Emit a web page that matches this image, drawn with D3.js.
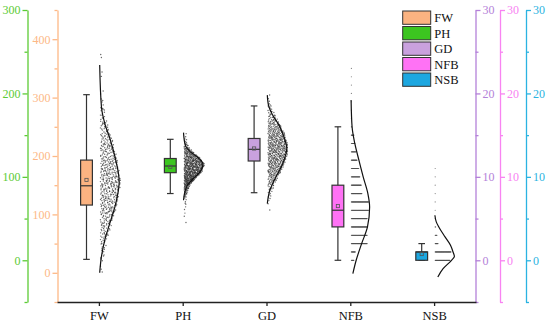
<!DOCTYPE html>
<html><head><meta charset="utf-8">
<script src="https://cdn.jsdelivr.net/npm/d3@7"></script>
<style>body{margin:0;background:#fff}svg{display:block}text{font-family:"Liberation Serif","Times New Roman",serif}</style>
</head><body><svg id="c" width="550" height="326"></svg>
<script>
// ---------- data ----------
const categories = ["FW","PH","GD","NFB","NSB"];
const whiskerLow  = [23, 80, 8.1, 0, 0];
const q1          = [116, 105, 11.9, 4, 0];
const medians     = [149, 113, 13.3, 6, 1];
const q3          = [193, 122, 14.6, 9, 1];
const whiskerHigh = [305, 145, 18.5, 16, 2];
const means       = [159, 112, 13.4, 6.5, 0.75];

// distribution curves: [value, relative density]
const curveFW  = [[0,0],[28,0.09],[56,0.26],[85,0.52],[113,0.78],[156,1],[199,0.78],[227,0.55],[256,0.26],[284,0.09],[356,0]];
const curvePH  = [[72,0],[80,0.05],[90,0.2],[98,0.5],[106,0.85],[115,1],[124,0.7],[130,0.35],[138,0.09],[153,0]];
const curveGD  = [[6.8,0],[8.3,0.12],[9.8,0.4],[11.2,0.72],[12.3,0.9],[13.4,1],[14.8,0.85],[16.2,0.6],[17.5,0.25],[18.5,0.07],[19.8,0]];
const curveNFB = [[-1.6,0.09],[0,0.26],[2,0.54],[4,0.84],[6.4,0.95],[8,0.86],[10,0.62],[12,0.4],[14,0.19],[16,0.05],[19.2,0]];
const curveNSB = [[-2,0.15],[-1,0.42],[0,0.85],[0.45,1],[1,0.93],[1.8,0.8],[2.8,0.52],[4,0.2],[4.6,0.07],[5.4,0]];

// dot clouds: [bin centre, count]
const binWidthFW = 20, binWidthPH = 5, binWidthGD = 0.5;
const dotsFW = [[10,3],[30,8],[50,15],[70,25],[90,38],[110,52],[130,62],[150,68],[170,66],[190,58],[210,45],[230,33],[250,22],[270,12],[290,6],[310,2],[330,1],[350,1],[370,2]];
const dotsPH = [[47.5,1],[52.5,1],[57.5,1],[62.5,2],[67.5,2],[72.5,3],[77.5,6],[82.5,12],[87.5,22],[92.5,38],[97.5,58],[102.5,72],[107.5,80],[112.5,82],[117.5,76],[122.5,60],[127.5,40],[132.5,22],[137.5,10],[142.5,4],[147.5,2],[152.5,1]];
const dotsGD = [[6.25,1],[6.75,1],[7.25,2],[7.75,3],[8.25,5],[8.75,8],[9.25,12],[9.75,17],[10.25,23],[10.75,29],[11.25,35],[11.75,40],[12.25,44],[12.75,47],[13.25,48],[13.75,47],[14.25,44],[14.75,40],[15.25,34],[15.75,28],[16.25,22],[16.75,16],[17.25,11],[17.75,7],[18.25,4],[18.75,3],[19.25,2],[19.75,1]];
// discrete counts: [value, count]
const dotsNFB = [[0,8],[1,12],[2,46],[3,46],[4,46],[5,46],[6,50],[7,50],[8,31],[9,29],[10,25],[11,22],[12,17],[13,14],[14,11],[15,8],[16,2],[17,1],[18,1],[19,1],[20,1],[21,1],[22,1],[23,1]];
const dotsNSB = [[0,43],[1,46],[2,9],[3,6],[4,2],[5,1],[6,1],[7,1],[8,1],[9,1],[10,1],[11,1]];

// axis ticks
const ticksOrange = [0,100,200,300,400], minorOrange = [-50,50,150,250,350,450];
const ticksGreen  = [0,100,200,300],     minorGreen  = [-50,50,150,250];
const ticksRight  = [0,10,20,30],        minorRight  = [-5,5,15,25];

// ---------- styles ----------
const fills  = ["#FBB381","#3CC520","#C9A1DE","#FF72F5","#1DA7E0"];
const axCols = ["#FDB886","#5CCB35","#B481D9","#F883F2","#2BB3E1"];

const svg = d3.select("#c");
const plotTop = 10, plotBottom = 302;
const x = d3.scalePoint().domain(categories).range([57, 476]).padding(0.5);
const yOrange = d3.scaleLinear().domain([-50,450]).range([plotBottom, plotTop]);
const yGreen  = d3.scaleLinear().domain([-50,300]).range([plotBottom, plotTop]);
const yPurple = d3.scaleLinear().domain([-5,30]).range([plotBottom, plotTop]);
const yPink   = d3.scaleLinear().domain([-5,30]).range([plotBottom, plotTop]);
const yCyan   = d3.scaleLinear().domain([-5,30]).range([plotBottom, plotTop]);
const yScales = [yOrange, yGreen, yPurple, yPink, yCyan];
const wScale = d3.scaleLinear().domain([0,1]).range([0,19.5]);

// ---------- axes ----------
function drawAxis(scale, xpos, side, major, minor, col) {
  const mk = side === "left" ? d3.axisLeft : d3.axisRight;
  const g = svg.append("g").attr("transform", `translate(${xpos},0)`);
  g.call(mk(scale).tickValues(major).tickSize(5).tickSizeOuter(0).tickPadding(2).tickFormat(d3.format("d")));
  const gm = svg.append("g").attr("transform", `translate(${xpos},0)`);
  gm.call(mk(scale).tickValues(minor).tickSize(3).tickSizeOuter(0).tickFormat(""));
  gm.select(".domain").remove();
  [g, gm].forEach(s => {
    s.selectAll("path,line").attr("stroke", col).attr("stroke-width", 1.3);
    s.selectAll("text").attr("fill", col).attr("font-size", 12).attr("font-family", "Liberation Serif");
  });
}
drawAxis(yGreen, 27.5, "left", ticksGreen, minorGreen, axCols[1]);
drawAxis(yOrange, 57.5, "left", ticksOrange, minorOrange, axCols[0]);
drawAxis(yPurple, 475.5, "right", ticksRight, minorRight, axCols[2]);
drawAxis(yPink, 500, "right", ticksRight, minorRight, axCols[3]);
drawAxis(yCyan, 526, "right", ticksRight, minorRight, axCols[4]);

const gx = svg.append("g").attr("transform", `translate(0,${plotBottom})`);
gx.call(d3.axisBottom(x).tickSize(4).tickSizeOuter(0).tickPadding(5));
gx.selectAll("path,line").attr("stroke", "#222").attr("stroke-width", 1.3);
gx.selectAll("text").attr("fill", "#111").attr("font-size", 12.5).attr("font-family", "Liberation Serif");

// ---------- helpers ----------
function halton(i, b) { let f = 1, r = 0; while (i > 0) { f /= b; r += f * (i % b); i = Math.floor(i / b); } return r; }
function relAt(curve, v) {
  if (v <= curve[0][0]) return curve[0][1];
  const last = curve[curve.length - 1];
  if (v >= last[0]) return last[1];
  for (let i = 1; i < curve.length; i++) {
    if (v <= curve[i][0]) {
      const [a, ra] = curve[i-1], [b, rb] = curve[i];
      return ra + (rb - ra) * (v - a) / (b - a);
    }
  }
  return 0;
}
const plot = svg.append("g");

function drawCloud(i, bins, binW, curve) {
  const yS = yScales[i];
  const base = x(categories[i]) + 0.8;
  const pts = [];
  let idx = 0;
  bins.forEach(([c, n]) => {
    for (let k = 0; k < n; k++) {
      idx++;
      const t = halton(idx + 7, 2);
      const u = halton(idx + 7, 3);
      const v = c - binW / 2 + t * binW;
      const w = wScale(relAt(curve, v)) * 0.95 + 2;
      pts.push([base + 0.7 + u * w, yS(v)]);
    }
  });
  plot.append("g").selectAll("circle").data(pts).join("circle")
    .attr("cx", d => d[0]).attr("cy", d => d[1]).attr("r", 0.7)
    .attr("fill", "#2a2a2a").attr("fill-opacity", 0.7);
}
function drawDiscrete(i, counts) {
  const yS = yScales[i];
  const base = x(categories[i]) + 0.8;
  const pts = [];
  counts.forEach(([v, n]) => {
    for (let k = 0; k < n; k++) pts.push([base + 0.3 + k * 0.35, yS(v)]);
  });
  plot.append("g").selectAll("circle").data(pts).join("circle")
    .attr("cx", d => d[0]).attr("cy", d => d[1]).attr("r", 0.6)
    .attr("fill", "#333").attr("fill-opacity", 0.6);
}
function drawCurve(i, curve) {
  const yS = yScales[i];
  const base = x(categories[i]) + 0.8;
  plot.append("path").datum(curve)
    .attr("d", d3.line().x(d => base + wScale(d[1])).y(d => yS(d[0])).curve(d3.curveMonotoneY))
    .attr("fill", "none").attr("stroke", "#111").attr("stroke-width", 1.2);
}
function drawBox(i) {
  const yS = yScales[i];
  const cx = x(categories[i]) - 12.4;
  const hw = 5.9, cap = 3.3;
  const g = plot.append("g").attr("stroke", "#333").attr("stroke-width", 1.2);
  g.append("line").attr("x1", cx).attr("x2", cx).attr("y1", yS(whiskerLow[i])).attr("y2", yS(whiskerHigh[i]));
  g.append("line").attr("x1", cx - cap).attr("x2", cx + cap).attr("y1", yS(whiskerHigh[i])).attr("y2", yS(whiskerHigh[i]));
  g.append("line").attr("x1", cx - cap).attr("x2", cx + cap).attr("y1", yS(whiskerLow[i])).attr("y2", yS(whiskerLow[i]));
  g.append("rect").attr("x", cx - hw).attr("width", hw * 2)
    .attr("y", yS(q3[i])).attr("height", Math.max(0, yS(q1[i]) - yS(q3[i])))
    .attr("fill", fills[i]);
  g.append("line").attr("x1", cx - hw).attr("x2", cx + hw).attr("y1", yS(medians[i])).attr("y2", yS(medians[i]));
  g.append("rect").attr("x", cx - 1.6).attr("y", yS(means[i]) - 1.6).attr("width", 3.2).attr("height", 3.2)
    .attr("fill", "none").attr("stroke-width", 0.8).attr("stroke", "#555");
}

drawCloud(0, dotsFW, binWidthFW, curveFW);
drawCloud(1, dotsPH, binWidthPH, curvePH);
drawCloud(2, dotsGD, binWidthGD, curveGD);
drawDiscrete(3, dotsNFB);
drawDiscrete(4, dotsNSB);
[curveFW, curvePH, curveGD, curveNFB, curveNSB].forEach((c, i) => drawCurve(i, c));
categories.forEach((c, i) => drawBox(i));

// ---------- legend ----------
const lg = svg.append("g").attr("transform", "translate(402.7,11)");
categories.forEach((c, i) => {
  const r = lg.append("g").attr("transform", `translate(0,${i * 15.5})`);
  r.append("rect").attr("width", 28).attr("height", 13.3).attr("fill", fills[i])
    .attr("stroke", "#333").attr("stroke-width", 1);
  r.append("text").attr("x", 31.5).attr("y", 11).attr("font-size", 12.5).attr("fill", "#111").text(c);
});
</script></body></html>
